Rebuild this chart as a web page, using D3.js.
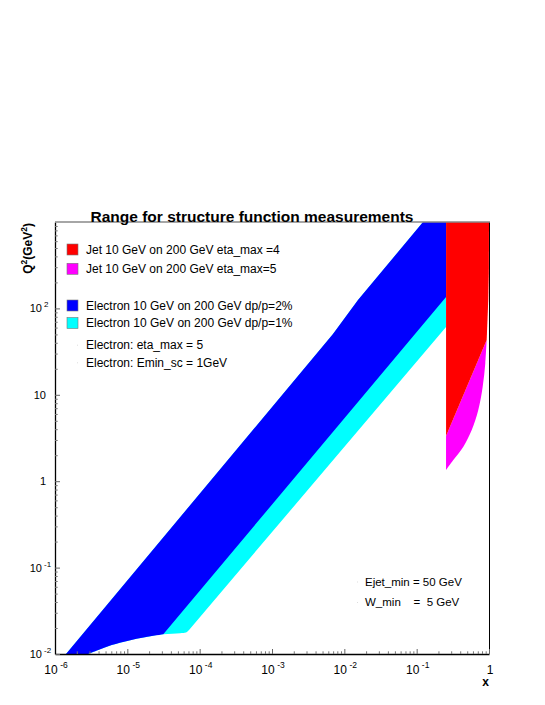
<!DOCTYPE html>
<html>
<head>
<meta charset="utf-8">
<script src="https://cdn.jsdelivr.net/npm/d3@7"></script>
<style>
  body { margin: 0; background: #fff; }
  svg text { font-family: "Liberation Sans", Arial, Helvetica, sans-serif; fill: #000; }
</style>
</head>
<body>
<div id="chart"></div>
<script>
// axis ticks and labels
var xMajor = [1e-6, 1e-5, 1e-4, 1e-3, 1e-2, 1e-1, 1];
var xLabelBase = ["10", "10", "10", "10", "10", "10", "1"];
var xLabelExp = ["-6", "-5", "-4", "-3", "-2", "-1", ""];
var yMajor = [1e-2, 1e-1, 1, 10, 100];
var yLabelBase = ["10", "10", "1", "10", "10"];
var yLabelExp = ["-2", "-1", "", "", "2"];

// electron acceptance (x, Q2)
var jetXmin = 0.2547;
var q2Max = 1000;
var elecUpperEdge = [[1.42e-6, 0.01], [6.97e-3, 50.6], [1.545e-2, 125], [0.1225, 1000]];
var blueRightEdge = [[jetXmin, 135.6], [3.14e-5, 0.0169]];
var cyanRightEdge = [[jetXmin, 60.9], [7.13e-5, 0.019], [6.47e-5, 0.01774], [5.35e-5, 0.0174], [3.14e-5, 0.0169]];
var elecLowCurve = [[3.14e-5, 0.0169], [1.75e-5, 0.0156], [1.03e-5, 0.01425], [6.08e-6, 0.0127], [3.97e-6, 0.0111], [2.88e-6, 0.01]];

// jet acceptance (x, Q2)
var redEdge = [[jetXmin, 1000], [1, 1000], [0.995, 264], [0.977, 125], [0.929, 43.1], [jetXmin, 3.33]];
var magentaCurve = [[0.929, 43.1], [0.889, 23.2], [0.818, 12.4], [0.711, 6.67],
                    [0.577, 3.91], [0.442, 2.51], [0.321, 1.76], [jetXmin, 1.35]];
var magentaTop = [jetXmin, 3.33];

var legendItems = [
  {label: "Jet 10 GeV on 200 GeV eta_max =4", color: "#ff0000"},
  {label: "Jet 10 GeV on 200 GeV eta_max=5", color: "#ff00ff"},
  {label: "Electron 10 GeV on 200 GeV dp/p=2%", color: "#0000ff"},
  {label: "Electron 10 GeV on 200 GeV dp/p=1%", color: "#00ffff"},
  {label: "Electron: eta_max = 5", color: null},
  {label: "Electron: Emin_sc = 1GeV", color: null}
];
var legendRowY = [249.5, 268.8, 305.5, 323, 344.7, 362.3];
var noteLines = ["Ejet_min = 50 GeV", "W_min    =  5 GeV"];

var width = 545, height = 705;
var x0 = 55, x1 = 489, y0 = 654, y1 = 222;

var svg = d3.select("#chart").append("svg")
  .attr("width", width)
  .attr("height", height);

var x = d3.scaleLog().domain([1e-6, 1]).range([x0, x1]);
var y = d3.scaleLog().domain([1e-2, q2Max]).range([y0, y1]);

var line = d3.line()
  .x(function(d) { return x(d[0]); })
  .y(function(d) { return y(d[1]); });
var smooth = d3.line()
  .x(function(d) { return x(d[0]); })
  .y(function(d) { return y(d[1]); })
  .curve(d3.curveCatmullRom);

// straight part then smooth part, as one closed outline
function outline(straightPts, curvePts) {
  return line(straightPts) + smooth(curvePts).replace(/^M/, "L") + "Z";
}

// right frame line goes under the fills
svg.append("line")
  .attr("x1", x1 + 0.5).attr("x2", x1 + 0.5)
  .attr("y1", y1).attr("y2", y0)
  .attr("stroke", "#000").attr("stroke-width", 1);

var elecTop = elecUpperEdge.concat([[jetXmin, q2Max]]);

svg.append("path")
  .attr("d", outline(elecTop.concat(cyanRightEdge.slice(0, 2)), cyanRightEdge.slice(1).concat(elecLowCurve.slice(1))))
  .attr("fill", "#00ffff");
svg.append("path")
  .attr("d", outline(elecTop.concat(blueRightEdge), elecLowCurve))
  .attr("fill", "#0000ff");
svg.append("path")
  .attr("d", outline([magentaTop], magentaCurve))
  .attr("fill", "#ff00ff");
svg.append("path").attr("d", line(redEdge) + "Z").attr("fill", "#ff0000");

// x axis
var xMinor = x.ticks().filter(function(d) { return xMajor.indexOf(d) < 0; });
var gx = svg.append("g")
  .attr("transform", "translate(0," + y0 + ")")
  .call(d3.axisBottom(x).tickValues(xMajor).tickSizeInner(-5).tickSizeOuter(0).tickFormat(""));
gx.select(".domain").attr("stroke", "#000").attr("stroke-width", 1.3);
gx.selectAll(".tick line").attr("stroke", "#666");
var gxm = svg.append("g")
  .attr("transform", "translate(0," + y0 + ")")
  .call(d3.axisBottom(x).tickValues(xMinor).tickSizeInner(-2.7).tickSizeOuter(0).tickFormat(""));
gxm.select(".domain").remove();
gxm.selectAll(".tick line").attr("stroke", "#777");

var xl = svg.append("g").selectAll("text")
  .data(xMajor)
  .enter().append("text")
  .attr("x", function(d) { return x(d) + 1; })
  .attr("y", 673.5)
  .attr("text-anchor", "middle")
  .style("font-size", "12px");
xl.append("tspan").text(function(d, i) { return xLabelBase[i]; });
xl.append("tspan")
  .attr("dx", 2.5).attr("dy", -6)
  .style("font-size", "8.5px")
  .text(function(d, i) { return xLabelExp[i]; });

// y axis
var yMinor = y.ticks().filter(function(d) { return yMajor.indexOf(d) < 0 && d < q2Max; });
var gy = svg.append("g")
  .attr("transform", "translate(" + x0 + ",0)")
  .call(d3.axisLeft(y).tickValues(yMajor).tickSizeInner(-5).tickSizeOuter(0).tickFormat(""));
gy.select(".domain").attr("stroke", "#000").attr("stroke-width", 1.3);
gy.selectAll(".tick line").attr("stroke", "#666");
var gym = svg.append("g")
  .attr("transform", "translate(" + x0 + ",0)")
  .call(d3.axisLeft(y).tickValues(yMinor).tickSizeInner(-2.7).tickSizeOuter(0).tickFormat(""));
gym.select(".domain").remove();
gym.selectAll(".tick line").attr("stroke", "#777");

var yl = svg.append("g").selectAll("text")
  .data(yMajor)
  .enter().append("text")
  .attr("y", function(d) { return y(d) + 4; })
  .attr("text-anchor", "end")
  .style("font-size", "11px")
  .attr("x", function(d, i) { return yLabelExp[i] === "" ? 46 : 42; })
  .text(function(d, i) { return yLabelBase[i]; });
svg.append("g").selectAll("text")
  .data(yMajor.filter(function(d, i) { return yLabelExp[i] !== ""; }))
  .enter().append("text")
  .attr("x", 44)
  .attr("y", function(d) { return y(d) - 1; })
  .style("font-size", "8px")
  .text(function(d) { return yLabelExp[yMajor.indexOf(d)]; });

// top frame line sits over the fills
svg.append("line")
  .attr("x1", x0).attr("x2", x1 + 1)
  .attr("y1", y1).attr("y2", y1)
  .attr("stroke", "#888").attr("stroke-width", 1.5);

// axis titles
svg.append("text")
  .attr("x", x1)
  .attr("y", 686)
  .attr("text-anchor", "end")
  .style("font-size", "12px")
  .style("font-weight", "bold")
  .text("x");

var yt = svg.append("text")
  .attr("transform", "translate(32,223) rotate(-90)")
  .attr("text-anchor", "end")
  .style("font-size", "12px")
  .style("font-weight", "bold");
yt.append("tspan").text("Q");
yt.append("tspan").attr("dy", -5).style("font-size", "8.5px").text("2");
yt.append("tspan").attr("dy", 5).text("(GeV");
yt.append("tspan").attr("dy", -5).style("font-size", "8.5px").text("2");
yt.append("tspan").attr("dy", 5).text(")");

// title
svg.append("text")
  .attr("x", 90.5)
  .attr("y", 222)
  .style("font-size", "15.5px")
  .style("font-weight", "bold")
  .text("Range for structure function measurements");

// legend
var leg = svg.append("g").selectAll("g")
  .data(legendItems)
  .enter().append("g")
  .attr("transform", function(d, i) { return "translate(0," + legendRowY[i] + ")"; });
leg.filter(function(d) { return d.color; })
  .append("rect")
  .attr("x", 67).attr("y", -5.5)
  .attr("width", 11).attr("height", 11)
  .attr("fill", function(d) { return d.color; })
  .attr("stroke", "#777").attr("stroke-width", 0.6);
leg.filter(function(d) { return !d.color; })
  .append("rect")
  .attr("x", 77).attr("y", 0)
  .attr("width", 1).attr("height", 1)
  .attr("fill", "#ddd");
leg.append("text")
  .attr("x", 86)
  .attr("y", 4.3)
  .style("font-size", "12px")
  .text(function(d) { return d.label; });

// cuts note
var notes = svg.append("g").selectAll("g")
  .data(noteLines)
  .enter().append("g")
  .attr("transform", function(d, i) { return "translate(0," + (581.5 + i * 20.5) + ")"; });
notes.append("rect")
  .attr("x", 357).attr("y", 0)
  .attr("width", 1).attr("height", 1)
  .attr("fill", "#ddd");
notes.append("text")
  .attr("x", 365)
  .attr("y", 4.2)
  .style("font-size", "11.5px")
  .style("white-space", "pre")
  .text(function(d) { return d; });
</script>
</body>
</html>
